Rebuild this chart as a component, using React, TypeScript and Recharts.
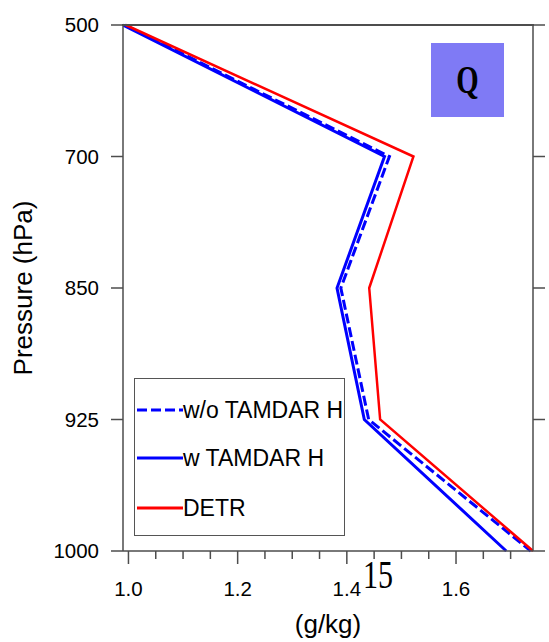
import React from "react";
import { LineChart, Line, XAxis, YAxis, Legend } from "recharts";

const levels = ["500", "700", "850", "925", "1000"];
const woTamdarH = [0.993, 1.478, 1.389, 1.44, 1.737];
const wTamdarH = [0.99, 1.469, 1.382, 1.432, 1.692];
const detr = [0.995, 1.522, 1.441, 1.461, 1.741];
const seriesNames = ["w/o TAMDAR H", "w TAMDAR H", "DETR"];

const xDomain = [0.99, 1.741];
const majorTicks = [1.0, 1.2, 1.4, 1.6];
const allTicks = [1.0, 1.05, 1.1, 1.15, 1.2, 1.25, 1.3, 1.35, 1.4, 1.45, 1.5, 1.55, 1.6, 1.65, 1.7];

const data = levels.map((p, i) => ({
  p,
  wo: woTamdarH[i],
  w: wTamdarH[i],
  detr: detr[i],
}));

const FONT = "'Liberation Sans', Arial, Helvetica, sans-serif";
const AXIS = "#4d4d4d";

const isMajor = (v: number) => majorTicks.some((m) => Math.abs(m - v) < 1e-6);

const XTick = (props: any) => {
  const { x, y, payload } = props;
  const major = isMajor(payload.value);
  return (
    <g>
      <line x1={x} x2={x} y1={y} y2={y + (major ? 13 : 8)} stroke={AXIS} strokeWidth={1.5} />
      {major && (
        <text x={x} y={y + 45} textAnchor="middle" fontSize={20.5} fontFamily={FONT} fill="#000">
          {payload.value.toFixed(1)}
        </text>
      )}
    </g>
  );
};

const EmptyTick = () => <g />;

const YTitle = (props: any) => {
  const vb = props.viewBox || {};
  const cy = (vb.y ?? 25) + (vb.height ?? 526) / 2;
  return (
    <text
      x={32}
      y={cy}
      transform={`rotate(-90, 32, ${cy})`}
      textAnchor="middle"
      fontSize={26}
      fontFamily={FONT}
      fill="#000"
    >
      Pressure (hPa)
    </text>
  );
};

const XTitle = (props: any) => {
  const vb = props.viewBox || {};
  const cx = (vb.x ?? 123) + (vb.width ?? 410) / 2;
  return (
    <text x={cx} y={633} textAnchor="middle" fontSize={26} fontFamily={FONT} fill="#000">
      (g/kg)
    </text>
  );
};

const LegendContent = (props: any) => {
  const payload = [...(props.payload || [])].sort(
    (a: any, b: any) => seriesNames.indexOf(a.value) - seriesNames.indexOf(b.value)
  );
  const rows = [31, 79, 129];
  return (
    <svg width={209} height={156} style={{ display: "block" }}>
      {payload.map((entry: any, i: number) => (
        <g key={entry.value}>
          <line
            x1={2}
            x2={48}
            y1={rows[i]}
            y2={rows[i]}
            stroke={entry.color}
            strokeWidth={3}
            strokeDasharray={entry.payload?.strokeDasharray}
          />
          <text x={48} y={rows[i]} dy="0.36em" fontSize={23} fontFamily={FONT} fill="#000">
            {entry.value}
          </text>
        </g>
      ))}
    </svg>
  );
};

export default function App() {
  return (
    <div style={{ position: "absolute", left: 0, top: 0, width: 549, height: 642, background: "#fff" }}>
      <LineChart
        width={549}
        height={642}
        data={data}
        layout="vertical"
        margin={{ top: 25, right: 0, bottom: 0, left: 0 }}
      >
        <XAxis
          type="number"
          domain={xDomain}
          allowDataOverflow
          ticks={allTicks}
          interval={0}
          height={91}
          tickSize={0}
          tickMargin={0}
          tickLine={false}
          tick={<XTick />}
          axisLine={{ stroke: AXIS, strokeWidth: 1.5 }}
          label={<XTitle />}
        />
        <YAxis
          type="category"
          dataKey="p"
          scale="point"
          padding={{ top: 0, bottom: 0 }}
          width={123}
          tickSize={12}
          tickMargin={12}
          interval={0}
          tick={{ fontSize: 20.5, fontFamily: FONT, fill: "#000" }}
          tickLine={{ stroke: AXIS, strokeWidth: 1.5 }}
          axisLine={{ stroke: AXIS, strokeWidth: 1.5 }}
          label={<YTitle />}
        />
        <YAxis
          yAxisId="right"
          type="category"
          dataKey="p"
          scale="point"
          padding={{ top: 0, bottom: 0 }}
          orientation="right"
          width={16}
          tickSize={12}
          interval={0}
          tick={EmptyTick}
          tickLine={{ stroke: AXIS, strokeWidth: 1.5 }}
          axisLine={{ stroke: AXIS, strokeWidth: 1.5 }}
        />
        <Legend
          layout="vertical"
          align="center"
          verticalAlign="middle"
          content={<LegendContent />}
          wrapperStyle={{
            left: 134,
            top: 378,
            width: 211,
            height: 158,
            border: "1px solid #555",
            background: "#fff",
            boxSizing: "border-box",
          }}
        />
        <Line
          dataKey="wo"
          name="w/o TAMDAR H"
          stroke="#0000ff"
          strokeWidth={3}
          strokeDasharray="10 4"
          dot={false}
          isAnimationActive={false}
        />
        <Line
          dataKey="w"
          name="w TAMDAR H"
          stroke="#0000ff"
          strokeWidth={3}
          dot={false}
          isAnimationActive={false}
        />
        <Line
          dataKey="detr"
          name="DETR"
          stroke="#ff0000"
          strokeWidth={2.5}
          dot={false}
          isAnimationActive={false}
        />
      </LineChart>
      <div
        style={{
          position: "absolute",
          left: 122,
          top: 24,
          width: 412,
          height: 2,
          background: AXIS,
        }}
      />
      <div
        style={{
          position: "absolute",
          left: 431,
          top: 43,
          width: 73,
          height: 74,
          background: "#7f7af5",
        }}
      />
      <div
        style={{
          position: "absolute",
          left: 431,
          top: 43,
          width: 73,
          height: 74,
          display: "flex",
          alignItems: "center",
          justifyContent: "center",
          fontFamily: "'Liberation Serif', 'Times New Roman', serif",
          fontWeight: "bold",
          fontSize: 40,
          lineHeight: 1,
          color: "#000",
          transform: "scaleX(0.72)",
        }}
      >
        Q
      </div>
      <div
        style={{
          position: "absolute",
          left: 355,
          top: 555,
          width: 46,
          textAlign: "center",
          fontFamily: "'Liberation Serif', 'Times New Roman', serif",
          fontSize: 40,
          lineHeight: "40px",
          color: "#000",
          transform: "scaleX(0.75)",
        }}
      >
        15
      </div>
    </div>
  );
}
